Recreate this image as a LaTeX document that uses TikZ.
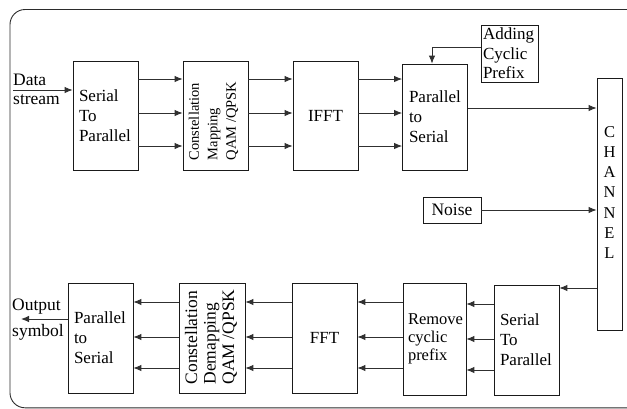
\documentclass[tikz,border=0pt]{standalone}
\usepackage{fontspec}
\setmainfont{Liberation Serif}
\usetikzlibrary{arrows.meta,positioning}
\definecolor{ofline}{HTML}{1A1A1A}
\definecolor{ofarrow}{HTML}{303030}
\definecolor{offrame}{HTML}{2B2B2B}

\tikzset{
  blk/.style={draw=ofline, line width=0.8pt, minimum width=65pt,
              minimum height=109pt, inner sep=0pt,
              font=\rmfamily\fontsize{17}{20}\selectfont},
  blkl/.style={blk, align=left, text width=53pt},
  arr/.style={draw=ofarrow, line width=0.9pt,
              -{Latex[length=8pt,width=6.5pt]}},
  lbl/.style={font=\rmfamily\fontsize{17.5}{20}\selectfont, inner sep=0pt, anchor=west},
}

\begin{document}
\begin{tikzpicture}[x=1pt,y=-1pt]

  \useasboundingbox (0,0) rectangle (627,408);
  \clip (0,0) rectangle (627,408);

  % ---- Outer frame ---------------------------------------------
  \draw[offrame,line width=0.9pt,rounded corners=15pt] (10,9.5) rectangle (680,407.8);

  % ---- Transmitter ---------------------------------------------
  \node[blkl] (sptx) at (105.5,115.5) {Serial\\To\\Parallel};
  \node[blk] (map) at (215.5,115.5) {};
  \node[rotate=90, align=left, inner sep=0pt,
        font=\rmfamily\fontsize{14.5}{18.5}\selectfont] (maptxt) at (213.5,121)
    {Constellation\\Mapping\\QAM /QPSK};
  \node[blk] (ifft) at (325.5,116) {IFFT};
  \node[blkl, minimum height=106pt, text width=52pt] (pstx) at (435,117)
    {Parallel\\to\\Serial};
  \node[draw=ofline, line width=0.8pt, minimum width=57pt, minimum height=57pt,
        inner sep=0pt, align=left, text width=53pt,
        font=\rmfamily\fontsize{17}{19.5}\selectfont] (cp) at (509.5,53.5)
    {Adding\\Cyclic\\Prefix};

  % ---- Channel and noise ---------------------------------------
  \node[draw=ofline, line width=0.8pt, minimum width=25pt, minimum height=252pt,
        inner sep=0pt] (chan) at (609.5,204) {};
  \node[align=center, inner sep=0pt,
        font=\rmfamily\fontsize{16.5}{20.2}\selectfont] (chantxt) at (609.5,192.5)
    {C\\H\\A\\N\\N\\E\\L};
  \node[draw=ofline, line width=0.8pt, minimum width=58pt, minimum height=26pt,
        inner sep=0pt, font=\rmfamily\fontsize{17.5}{20}\selectfont] (noise) at (452,210) {Noise};

  % ---- Receiver ------------------------------------------------
  \node[blkl, minimum height=110pt] (sprx) at (526.5,340) {Serial\\To\\Parallel};
  \node[blkl, minimum width=63pt, minimum height=112pt, text width=53pt,
        font=\rmfamily\fontsize{16.5}{18}\selectfont] (rmcp) at (434.5,339)
    {Remove\\cyclic\\prefix};
  \node[blk, minimum height=110pt] (fft) at (324.5,338) {FFT};
  \node[blk, minimum width=66pt, minimum height=110pt] (demap) at (212,338) {};
  \node[rotate=90, align=left, inner sep=0pt,
        font=\rmfamily\fontsize{17.5}{18.5}\selectfont] (demaptxt) at (211,337)
    {Constellation\\Demapping\\QAM /QPSK};
  \node[blkl, minimum height=110pt] (psrx) at (100.5,338) {Parallel\\to\\Serial};

  % ---- Input / output labels -----------------------------------
  \node[lbl] (datalbl) at (13,80) {Data};
  \node[lbl] (streamlbl) at (13,100) {stream};
  \node[lbl] (outlbl) at (12,307) {Output};
  \node[lbl] (symlbl) at (12,332) {symbol};

  % ---- Connectors ----------------------------------------------
  \coordinate (din) at (13,90);
  \coordinate (dout) at (21,319);
  \coordinate (rowa) at (0,79);
  \coordinate (rowb) at (0,113);
  \coordinate (rowc) at (0,146);
  \coordinate (rowd) at (0,302);
  \coordinate (rowe) at (0,337);
  \coordinate (rowf) at (0,368);
  \coordinate (txline) at (0,108);
  \coordinate (rxline) at (0,288);
  \coordinate (cpbend) at (432,47);

  \draw[arr] (din) -- (din -| sptx.west);
  \foreach \rw in {rowa,rowb,rowc} {
    \draw[arr] (sptx.east |- \rw) -- (map.west |- \rw);
    \draw[arr] (map.east |- \rw) -- (ifft.west |- \rw);
    \draw[arr] (ifft.east |- \rw) -- (pstx.west |- \rw);
  }
  \draw[arr] (cp.west |- cpbend) -- (cpbend) -- (cpbend |- pstx.north);
  \draw[arr] (pstx.east |- txline) -- (chan.west |- txline);
  \draw[arr] (noise.east) -- (noise.east -| chan.west);
  \draw[arr] (chan.west |- rxline) -- (sprx.east |- rxline);

  \draw[arr] (sprx.west |- 0,304) -- (rmcp.east |- 0,304);
  \draw[arr] (sprx.west |- 0,339) -- (rmcp.east |- 0,339);
  \draw[arr] (sprx.west |- 0,370) -- (rmcp.east |- 0,370);
  \foreach \rw in {rowd,rowe,rowf} {
    \draw[arr] (rmcp.west |- \rw) -- (fft.east |- \rw);
    \draw[arr] (fft.west |- \rw) -- (demap.east |- \rw);
    \draw[arr] (demap.west |- \rw) -- (psrx.east |- \rw);
  }
  \draw[arr] (psrx.west |- dout) -- (dout);

\end{tikzpicture}
\end{document}
